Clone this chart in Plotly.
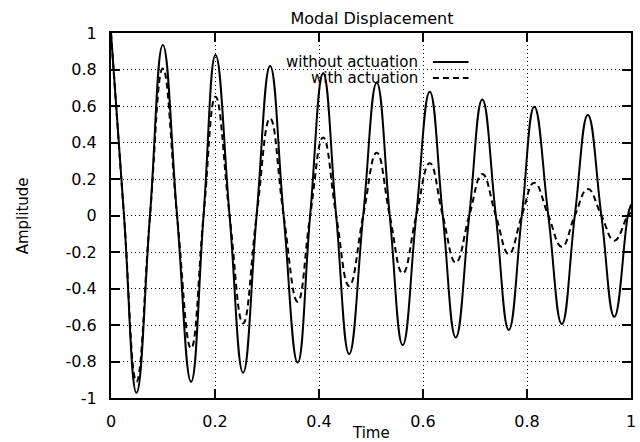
import plotly.graph_objects as go

# Values (extrema and zero crossings)
time = [0.000, 0.025, 0.049, 0.075, 0.0997, 0.127, 0.154, 0.178, 0.201, 0.228,
        0.254, 0.280, 0.306, 0.332, 0.359, 0.383, 0.408, 0.433, 0.458, 0.485,
        0.511, 0.536, 0.561, 0.587, 0.613, 0.638, 0.663, 0.689, 0.714, 0.740,
        0.765, 0.790, 0.814, 0.841, 0.867, 0.892, 0.917, 0.943, 0.968, 0.994, 1.000]

without_actuation = [1.000, 0.0, -0.971, 0.0, 0.934, 0.0, -0.911, 0.0, 0.879, 0.0,
                     -0.861, 0.0, 0.819, 0.0, -0.806, 0.0, 0.779, 0.0, -0.759, 0.0,
                     0.728, 0.0, -0.710, 0.0, 0.678, 0.0, -0.668, 0.0, 0.635, 0.0,
                     -0.627, 0.0, 0.596, 0.0, -0.595, 0.0, 0.551, 0.0, -0.555, 0.0, 0.06]

with_actuation = [1.000, 0.0, -0.910, 0.0, 0.805, 0.0, -0.728, 0.0, 0.651, 0.0,
                  -0.591, 0.0, 0.532, 0.0, -0.472, 0.0, 0.428, 0.0, -0.386, 0.0,
                  0.344, 0.0, -0.317, 0.0, 0.286, 0.0, -0.258, 0.0, 0.227, 0.0,
                  -0.211, 0.0, 0.180, 0.0, -0.171, 0.0, 0.145, 0.0, -0.138, 0.0, 0.015]

x_ticks = [0, 0.2, 0.4, 0.6, 0.8, 1]
x_tick_labels = ["0", "0.2", "0.4", "0.6", "0.8", "1"]
y_ticks = [-1, -0.8, -0.6, -0.4, -0.2, 0, 0.2, 0.4, 0.6, 0.8, 1]
y_tick_labels = ["-1", "-0.8", "-0.6", "-0.4", "-0.2", "0", "0.2", "0.4", "0.6", "0.8", "1"]

series_names = ["without actuation", "with actuation"]
title_text = "Modal Displacement"
x_title = "Time"
y_title = "Amplitude"

FONT = "DejaVu Sans"

fig = go.Figure()
fig.add_trace(go.Scatter(x=time, y=without_actuation, mode="lines", name=series_names[0],
                         line=dict(color="black", width=2, shape="spline", smoothing=1.3),
                         showlegend=False))
fig.add_trace(go.Scatter(x=time, y=with_actuation, mode="lines", name=series_names[1],
                         line=dict(color="black", width=2, dash="6px,4px", shape="spline", smoothing=1.3),
                         showlegend=False))

axis_common = dict(showline=True, linecolor="black", linewidth=2, mirror="ticks",
                   ticks="inside", ticklen=9, tickwidth=1.5, tickcolor="black",
                   showgrid=True, gridcolor="black", gridwidth=1, griddash="1px,3px",
                   zeroline=False, tickfont=dict(family=FONT, size=16, color="black"))

fig.update_xaxes(range=[0, 1], tickvals=x_ticks, ticktext=x_tick_labels,
                 ticklabelstandoff=8, **axis_common)
fig.update_yaxes(range=[-1, 1], tickvals=y_ticks, ticktext=y_tick_labels,
                 ticklabelstandoff=9, **axis_common)

L, R, T, B = 111, 4, 33, 44
W, H = 640, 442
pw, ph = W - L - R, H - T - B

def px_to_paper_x(px):
    return (px - L) / pw

def px_to_paper_y(py):
    return 1 - (py - T) / ph

annotations = [
    dict(text=x_title, x=0.5, y=px_to_paper_y(433), xref="paper", yref="paper",
         showarrow=False, xanchor="center", yanchor="middle",
         font=dict(family=FONT, size=15, color="black")),
    dict(text=y_title, x=px_to_paper_x(22), y=0.5, xref="paper", yref="paper",
         showarrow=False, xanchor="center", yanchor="middle", textangle=-90,
         font=dict(family=FONT, size=15, color="black")),
    dict(text=series_names[0], x=px_to_paper_x(423), y=px_to_paper_y(62), xref="paper", yref="paper",
         showarrow=False, xanchor="right", yanchor="middle",
         font=dict(family=FONT, size=15, color="black")),
    dict(text=series_names[1], x=px_to_paper_x(423), y=px_to_paper_y(78), xref="paper", yref="paper",
         showarrow=False, xanchor="right", yanchor="middle",
         font=dict(family=FONT, size=15, color="black")),
]

shapes = [
    dict(type="line", xref="paper", yref="paper", x0=px_to_paper_x(436), x1=px_to_paper_x(472),
         y0=px_to_paper_y(62), y1=px_to_paper_y(62), line=dict(color="black", width=2)),
    dict(type="line", xref="paper", yref="paper", x0=px_to_paper_x(436), x1=px_to_paper_x(472),
         y0=px_to_paper_y(78), y1=px_to_paper_y(78), line=dict(color="black", width=2, dash="6px,4px")),
]

fig.update_layout(
    width=W, height=H,
    margin=dict(l=L, r=R, t=T, b=B),
    paper_bgcolor="white", plot_bgcolor="white",
    title=dict(text=title_text, x=372 / W, xanchor="center",
               y=1 - 18 / H, yanchor="middle", yref="container",
               font=dict(family=FONT, size=16, color="black")),
    annotations=annotations, shapes=shapes,
    showlegend=False,
)

fig.write_html("out.html", config={"displayModeBar": False},
               post_script="document.body.style.margin='0';document.body.style.overflow='hidden';")
